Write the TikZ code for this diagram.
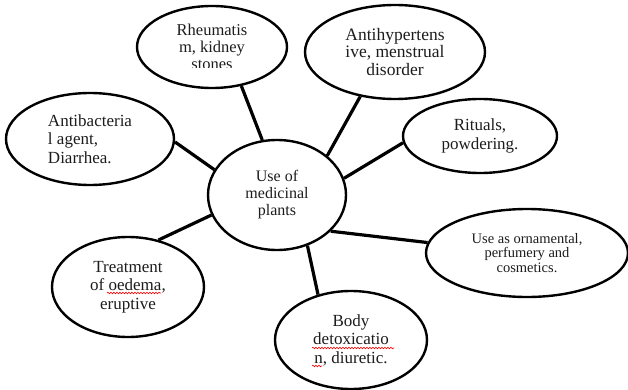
\documentclass[tikz,border=0pt]{standalone}
\usepackage{fontspec}
\setmainfont{Liberation Serif}
\usetikzlibrary{shapes.geometric, decorations.pathmorphing}
\definecolor{inkgray}{HTML}{1C1C1C}

\begin{document}
\begin{tikzpicture}[x=1pt, y=-1pt,
    bubble/.style={ellipse, draw, line width=2.4pt, inner sep=0pt, align=center,
      text=inkgray, font=\fontsize{17}{18.5}\selectfont},
    link/.style={line width=3.2pt},
    spell/.style={red, line width=0.6pt, decorate,
      decoration={snake, amplitude=0.8pt, segment length=3pt}}]
  \useasboundingbox (0,0) rectangle (628,390);

  \node[bubble, minimum width=138pt, minimum height=110pt,
    font=\fontsize{16}{17}\selectfont] (use) at (277,195) {Use of\\medicinal\\plants};
  \node[bubble, minimum width=150pt, minimum height=82pt,
    font=\fontsize{16.5}{17}\selectfont] (rheum) at (212,47) {Rheumatis\\m, kidney\\stones};
  \node[bubble, minimum width=180pt, minimum height=94pt,
    font=\fontsize{17.5}{17.5}\selectfont] (hyper) at (395,52) {Antihypertens\\ive, menstrual\\disorder};
  \node[bubble, minimum width=154pt, minimum height=74pt] (ritual) at (480,136) {Rituals,\\powdering.};
  \node[bubble, minimum width=168pt, minimum height=92pt, align=left] (bact) at (90,139)
    {Antibacteria\\l agent,\\Diarrhea.};
  \node[bubble, minimum width=152pt, minimum height=100pt] (oedema) at (128,287)
    {Treatment\\of oedema,\\eruptive};
  \node[bubble, minimum width=152pt, minimum height=98pt] (detox) at (351,340)
    {Body\\detoxicatio\\n, diuretic.};
  \node[bubble, minimum width=202pt, minimum height=88pt,
    font=\fontsize{14.5}{14.5}\selectfont] (orna) at (527,253)
    {Use as ornamental,\\perfumery and\\cosmetics.};

  % bottom of the last line is hidden
  \fill[white] (182,68) rectangle (242,78);

  % spell-check marks
  \draw[spell] (107,293) -- (161,293);
  \draw[spell] (312,348) -- (394,348);
  \draw[spell] (312,366) -- (322,366);

  \draw[link] (use.105) -- (rheum.-53);
  \draw[link] (use.38) -- (hyper.-128);
  \draw[link] (use.14) -- (ritual.185);
  \draw[link] (use.158) -- (bact.-2);
  \draw[link] (use.197) -- (oedema.57);
  \draw[link] (use.-59) -- (detox.126);
  \draw[link] (use.-34) -- (orna.174);
\end{tikzpicture}
\end{document}
